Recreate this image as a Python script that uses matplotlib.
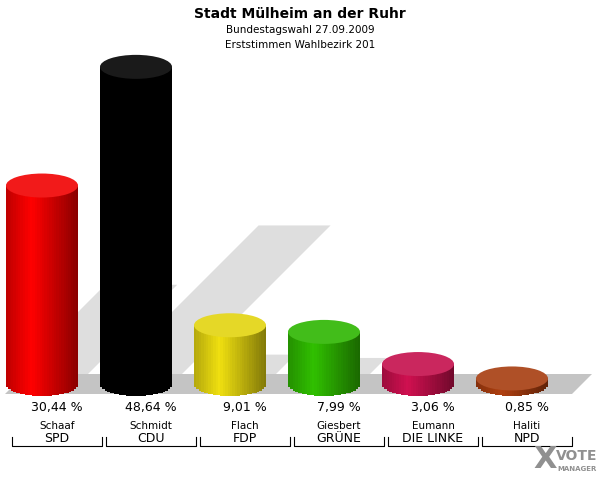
import matplotlib; matplotlib.use('Agg')
import matplotlib.pyplot as plt
from matplotlib.patches import Polygon, Ellipse, Rectangle
import numpy as np
import matplotlib.colors as mc

names = ['Schaaf', 'Schmidt', 'Flach', 'Giesbert', 'Eumann', 'Haliti']
parties = ['SPD', 'CDU', 'FDP', 'GRÜNE', 'DIE LINKE', 'NPD']
values = [30.44, 48.64, 9.01, 7.99, 3.06, 0.85]
colors = ['#ff0000', '#000000', '#f0e010', '#30c000', '#d01050', '#b04010']

fig = plt.figure(figsize=(6, 4.8), dpi=100)
ax = fig.add_axes([0, 0, 1, 1])
ax.set_xlim(0, 600); ax.set_ylim(480, 0); ax.axis('off')

base = 384
scale = 6.52
bw = 72
step = 94
x0 = 42
lx0 = 57

# floor
ax.add_patch(Polygon([(5, 394), (25, 374), (592, 374), (572, 394)],
                     closed=True, fc='#c4c4c4', ec='none', zorder=1))

# shadows
for i, v in enumerate(values):
    cx = x0 + i * step
    h = v * scale
    d = 0.5 * h
    ax.add_patch(Polygon([(cx - bw/2, base), (cx + bw/2, base),
                          (cx + bw/2 + d, base - d), (cx - bw/2 + d, base - d)],
                         closed=True, fc='#dedede', ec='none', zorder=0.5))

# cylinders
n = 30
for i, v in enumerate(values):
    cx = x0 + i * step
    h = v * scale
    top = base - h
    c = np.array(mc.to_rgb(colors[i]))
    for k in range(n):
        t = k / (n - 1)
        f = 1.0 - 0.45 * abs(t - 0.35) / 0.65
        col = np.clip(c * f, 0, 1)
        xl = cx - bw/2 + k * bw / n
        xm = xl + bw / n / 2 - cx
        yy = 12 * np.sqrt(max(0, 1 - (2 * xm / bw) ** 2))
        ax.add_patch(Rectangle((xl, top), bw / n + 0.3, h + yy,
                               fc=col, ec='none', zorder=2))
    ax.add_patch(Ellipse((cx, top), bw, 24, fc=np.clip(c * 0.85 + 0.1, 0, 1),
                         ec='none', zorder=3))

    lx = lx0 + i * step
    ax.text(lx, 408, f'{v:.2f} %'.replace('.', ','), ha='center', va='center',
            fontsize=9, zorder=4)
    ax.text(lx, 426, names[i], ha='center', va='center', fontsize=7.5)
    ax.text(lx, 438, parties[i], ha='center', va='center', fontsize=9)
    ax.plot([lx - 45, lx - 45, lx + 45, lx + 45], [437, 446, 446, 437],
            color='black', lw=0.8)

fig.text(0.5, 1 - 14/480, 'Stadt Mülheim an der Ruhr', ha='center', va='center',
         fontsize=10, fontweight='bold')
fig.text(0.5, 1 - 30/480, 'Bundestagswahl 27.09.2009', ha='center', va='center', fontsize=7.5)
fig.text(0.5, 1 - 45/480, 'Erststimmen Wahlbezirk 201', ha='center', va='center', fontsize=7.5)

ax.text(545, 460, 'X', ha='center', va='center', fontsize=22, fontweight='bold', color='#909090')
ax.text(577, 456, 'VOTE', ha='center', va='center', fontsize=10, fontweight='bold', color='#909090')
ax.text(577, 469, 'MANAGER', ha='center', va='center', fontsize=5, fontweight='bold', color='#909090')

fig.savefig('out.png', dpi=100)
